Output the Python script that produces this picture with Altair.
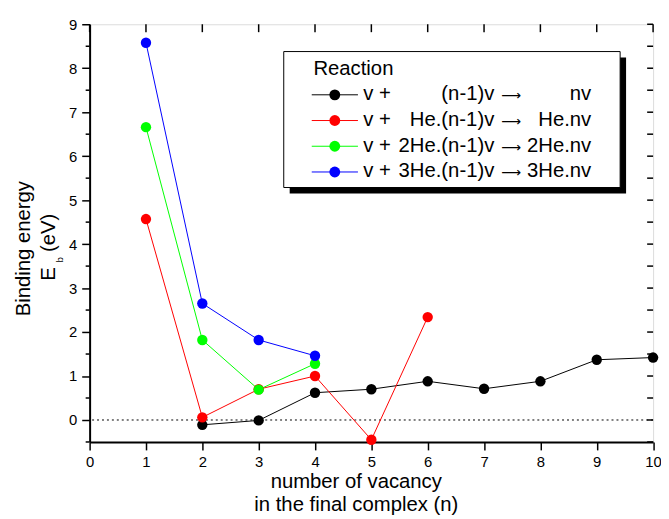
import altair as alt
import pandas as pd

# ---------------- data ----------------
n_v0 = [2, 3, 4, 5, 6, 7, 8, 9, 10]
e_v0 = [-0.11, -0.01, 0.62, 0.70, 0.88, 0.71, 0.88, 1.37, 1.42]
n_v1 = [1, 2, 3, 4, 5, 6]
e_v1 = [4.57, 0.06, 0.70, 1.00, -0.45, 2.34]
n_v2 = [1, 2, 3, 4]
e_v2 = [6.66, 1.82, 0.69, 1.28]
n_v3 = [1, 2, 3, 4]
e_v3 = [8.58, 2.65, 1.82, 1.46]

series_names = ["nv", "He.nv", "2He.nv", "3He.nv"]
series_colors = ["#000000", "#ff0000", "#00ff00", "#0000ff"]
legend_left = ["v +", "v +", "v +", "v +"]
legend_mid = ["(n-1)v", "He.(n-1)v", "2He.(n-1)v", "3He.(n-1)v"]
legend_arrow = ["\u27f6", "\u27f6", "\u27f6", "\u27f6"]
legend_prod = ["nv", "He.nv", "2He.nv", "3He.nv"]

x_ticks = [0, 1, 2, 3, 4, 5, 6, 7, 8, 9, 10]
y_ticks = [0, 1, 2, 3, 4, 5, 6, 7, 8, 9]
y_minor = [-0.5, 0.5, 1.5, 2.5, 3.5, 4.5, 5.5, 6.5, 7.5, 8.5]
y_right = [-0.5, 0, 0.5, 1, 1.5, 2, 2.5, 3, 3.5, 4, 4.5, 5, 5.5, 6, 6.5, 7, 7.5, 8, 8.5, 9]
zero_line = [0]

# ---------------- tables ----------------
rows = []
for name, ns, es in zip(series_names, [n_v0, n_v1, n_v2, n_v3], [e_v0, e_v1, e_v2, e_v3]):
    for n, e in zip(ns, es):
        rows.append({"series": name, "n": n, "E": e})
df = pd.DataFrame(rows)

leg = pd.DataFrame({
    "series": series_names,
    "left": legend_left,
    "mid": legend_mid,
    "arrow": legend_arrow,
    "prod": legend_prod,
    "row": list(range(len(series_names))),
})
dummy = pd.DataFrame({"k": [0]})

W, H = 569.5, 422.2
FONT = "Liberation Sans"

xs = alt.Scale(domain=[0, 10], nice=False, zero=False)
ys = alt.Scale(domain=[-0.5, 9], nice=False, zero=False)
xaxis = alt.Axis(values=x_ticks, tickSize=8, tickWidth=1.5, domainWidth=2, labelFontSize=15,
                 labelPadding=5, title=None, grid=False, format="d", labelFlush=False,
                 labelOverlap=False, tickColor="black", domainColor="black", labelColor="black",
                 labelFont=FONT)
yaxis = alt.Axis(values=y_ticks, tickSize=8, tickWidth=1.5, domainWidth=2, labelFontSize=15,
                 labelPadding=5, title=None, grid=False, format="d", labelFlush=False,
                 labelOverlap=False, tickColor="black", domainColor="black", labelColor="black",
                 labelFont=FONT)

X = alt.X("n:Q", scale=xs, axis=xaxis)
Y = alt.Y("E:Q", scale=ys, axis=yaxis)
C = alt.Color("series:N", scale=alt.Scale(domain=series_names, range=series_colors), legend=None)

zero = alt.Chart(pd.DataFrame({"E": zero_line})).mark_rule(
    color="black", strokeWidth=1, strokeDash=[2, 3]).encode(y=Y)

lines = alt.Chart(df).mark_line(strokeWidth=1).encode(x=X, y=Y, color=C)
points = alt.Chart(df).mark_circle(size=110, opacity=1).encode(x=X, y=Y, color=C)

top_ticks = alt.Chart(pd.DataFrame({"n": x_ticks})).mark_rule(color="black", strokeWidth=1.5).encode(
    x=X, y=alt.value(0), y2=alt.value(8))
right_ticks = alt.Chart(pd.DataFrame({"E": y_right})).mark_rule(color="black", strokeWidth=1.5).encode(
    y=Y, x=alt.value(W - 6), x2=alt.value(W))
left_minor = alt.Chart(pd.DataFrame({"E": y_minor})).mark_rule(color="black", strokeWidth=1.5).encode(
    y=Y, x=alt.value(-4), x2=alt.value(0))

# legend box
bx0, bx1, by0, by1 = 196.2, 536.2, 27.6, 165.0
shadow = alt.Chart(dummy).mark_rect(color="black").encode(
    x=alt.value(bx0 + 6), x2=alt.value(bx1 + 6), y=alt.value(by0 + 6), y2=alt.value(by1 + 6))
box = alt.Chart(dummy).mark_rect(fill="white", stroke="black", strokeWidth=1).encode(
    x=alt.value(bx0), x2=alt.value(bx1), y=alt.value(by0), y2=alt.value(by1))
leg_title = alt.Chart(dummy).mark_text(text="Reaction", align="left", baseline="alphabetic",
                                       font=FONT, fontSize=20.5, color="black").encode(
    x=alt.value(226.2), y=alt.value(51.6))

legbase = alt.Chart(leg).transform_calculate(py="71.3 + datum.row * 26")
PY = alt.Y("py:Q", scale=None, axis=None)
leg_lines = legbase.mark_rule(strokeWidth=1).encode(
    x=alt.value(224.5), x2=alt.value(271.2), y=PY, color=C)
leg_pts = legbase.mark_circle(size=120, opacity=1).encode(x=alt.value(247.8), y=PY, color=C)
leg_t1 = legbase.mark_text(align="left", baseline="alphabetic", dy=5.5, font=FONT, fontSize=20.5,
                           color="black").encode(x=alt.value(276.5), y=PY, text="left:N")
leg_t2 = legbase.mark_text(align="right", baseline="alphabetic", dy=5.5, font=FONT, fontSize=20.5,
                           color="black").encode(x=alt.value(409), y=PY, text="mid:N")
leg_ar = legbase.mark_text(align="center", baseline="alphabetic", dy=5.5, font="DejaVu Sans",
                           fontSize=14, color="black").encode(x=alt.value(426), y=PY, text="arrow:N")
leg_t3 = legbase.mark_text(align="right", baseline="alphabetic", dy=5.5, font=FONT, fontSize=20.5,
                           color="black").encode(x=alt.value(507), y=PY, text="prod:N")

# axis titles
def label(txt, x, y, size=20.5, angle=0, align="center"):
    return alt.Chart(dummy).mark_text(text=txt, align=align, baseline="alphabetic", angle=angle,
                                      font=FONT, fontSize=size, color="black").encode(
        x=alt.value(x), y=alt.value(y))

xt1 = label("number of vacancy", 269.5, 468.3)
xt2 = label("in the final complex (n)", 269.5, 491.6)
yt1 = label("Binding energy", -60.5, 226.8, angle=270)
yt2 = label("(eV)", -35.5, 210.8, angle=270)
yt3 = label("E", -35.5, 252.5, angle=270)
yt4 = label("b", -26.5, 238.0, size=10, angle=270)

chart = alt.layer(
    zero, lines, points, top_ticks, right_ticks, left_minor,
    shadow, box, leg_title, leg_lines, leg_pts, leg_t1, leg_t2, leg_ar, leg_t3,
    xt1, xt2, yt1, yt2, yt3, yt4,
).properties(
    width=W, height=H,
    autosize=alt.AutoSizeParams(type="none"),
    padding={"left": 82.5, "top": 13.7, "right": 8, "bottom": 74},
).configure_view(stroke="black", strokeWidth=2).configure(font=FONT, background="white")

chart.save("out.html", embed_options={"renderer": "svg", "actions": False})
